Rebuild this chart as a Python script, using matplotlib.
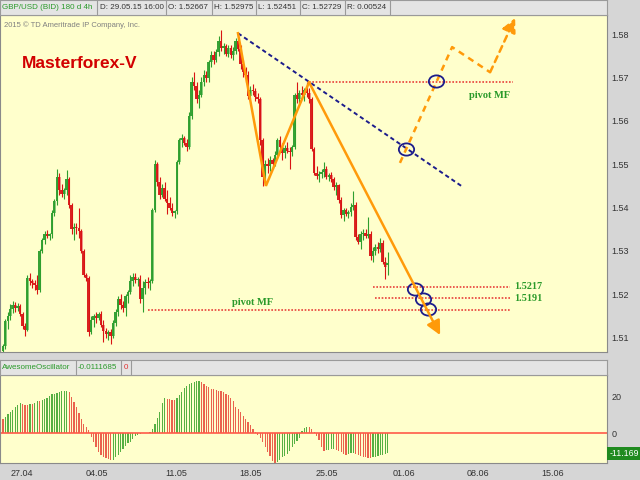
import matplotlib.pyplot as plt
import numpy as np
from matplotlib.path import Path
from matplotlib.transforms import Affine2D, blended_transform_factory

plt.rcParams["font.family"] = ["Liberation Sans", "DejaVu Sans"]

# 4h GBP/USD candles (bar index 0 .. 157)
opens = [
    1.5070, 1.5080, 1.5138, 1.5150, 1.5165, 1.5175, 1.5168, 1.5172, 1.5155, 1.5128,
    1.5118, 1.5238, 1.5230, 1.5225, 1.5222, 1.5210, 1.5300, 1.5325, 1.5340, 1.5335,
    1.5338, 1.5388, 1.5415, 1.5470, 1.5440, 1.5432, 1.5440, 1.5465, 1.5405, 1.5350,
    1.5355, 1.5352, 1.5345, 1.5300, 1.5245, 1.5238, 1.5112, 1.5140, 1.5150, 1.5145,
    1.5155, 1.5130, 1.5115, 1.5108, 1.5112, 1.5105, 1.5135, 1.5160, 1.5190, 1.5175,
    1.5168, 1.5195, 1.5205, 1.5230, 1.5240, 1.5232, 1.5235, 1.5190, 1.5215, 1.5228,
    1.5225, 1.5230, 1.5395, 1.5500, 1.5460, 1.5430, 1.5445, 1.5420, 1.5410, 1.5400,
    1.5388, 1.5392, 1.5505, 1.5555, 1.5560, 1.5550, 1.5540, 1.5610, 1.5690, 1.5680,
    1.5650, 1.5660, 1.5690, 1.5705, 1.5698, 1.5735, 1.5752, 1.5740, 1.5758, 1.5785,
    1.5768, 1.5772, 1.5755, 1.5768, 1.5752, 1.5760, 1.5785, 1.5765, 1.5730, 1.5712,
    1.5705, 1.5658, 1.5672, 1.5668, 1.5655, 1.5650, 1.5555, 1.5470, 1.5500, 1.5495,
    1.5510, 1.5500, 1.5522, 1.5555, 1.5540, 1.5525, 1.5538, 1.5530, 1.5528, 1.5540,
    1.5660, 1.5650, 1.5665, 1.5660, 1.5670, 1.5665, 1.5650, 1.5535, 1.5480, 1.5472,
    1.5478, 1.5482, 1.5490, 1.5470, 1.5475, 1.5465, 1.5448, 1.5452, 1.5418, 1.5382,
    1.5395, 1.5385, 1.5390, 1.5402, 1.5405, 1.5332, 1.5320, 1.5338, 1.5342, 1.5335,
    1.5340, 1.5288, 1.5300, 1.5310, 1.5305, 1.5318, 1.5275, 1.5267,
]
highs = [
    1.5085, 1.5142, 1.5160, 1.5178, 1.5185, 1.5182, 1.5180, 1.5178, 1.5160, 1.5135,
    1.5245, 1.5250, 1.5236, 1.5232, 1.5245, 1.5305, 1.5330, 1.5345, 1.5348, 1.5342,
    1.5395, 1.5420, 1.5490, 1.5480, 1.5455, 1.5445, 1.5487, 1.5470, 1.5410, 1.5365,
    1.5365, 1.5400, 1.5350, 1.5305, 1.5250, 1.5242, 1.5150, 1.5155, 1.5160, 1.5160,
    1.5162, 1.5140, 1.5122, 1.5118, 1.5120, 1.5140, 1.5165, 1.5195, 1.5200, 1.5185,
    1.5200, 1.5210, 1.5245, 1.5250, 1.5248, 1.5240, 1.5245, 1.5230, 1.5235, 1.5240,
    1.5235, 1.5400, 1.5510, 1.5505, 1.5470, 1.5455, 1.5460, 1.5440, 1.5425, 1.5410,
    1.5395, 1.5510, 1.5560, 1.5570, 1.5565, 1.5558, 1.5620, 1.5700, 1.5712, 1.5690,
    1.5670, 1.5700, 1.5718, 1.5715, 1.5740, 1.5760, 1.5760, 1.5765, 1.5795, 1.5810,
    1.5780, 1.5778, 1.5775, 1.5775, 1.5770, 1.5790, 1.5800, 1.5775, 1.5740, 1.5725,
    1.5715, 1.5680, 1.5685, 1.5675, 1.5665, 1.5655, 1.5560, 1.5510, 1.5515, 1.5520,
    1.5515, 1.5530, 1.5560, 1.5565, 1.5550, 1.5545, 1.5552, 1.5540, 1.5545, 1.5665,
    1.5690, 1.5670, 1.5680, 1.5675, 1.5690, 1.5675, 1.5655, 1.5540, 1.5495, 1.5485,
    1.5490, 1.5505, 1.5495, 1.5480, 1.5482, 1.5470, 1.5460, 1.5455, 1.5425, 1.5400,
    1.5400, 1.5395, 1.5410, 1.5438, 1.5412, 1.5340, 1.5345, 1.5350, 1.5350, 1.5378,
    1.5345, 1.5310, 1.5315, 1.5320, 1.5330, 1.5325, 1.5285, 1.5298,
]
lows = [
    1.5062, 1.5075, 1.5120, 1.5140, 1.5158, 1.5160, 1.5162, 1.5150, 1.5120, 1.5105,
    1.5115, 1.5222, 1.5215, 1.5210, 1.5200, 1.5205, 1.5295, 1.5315, 1.5330, 1.5325,
    1.5330, 1.5380, 1.5405, 1.5430, 1.5425, 1.5420, 1.5430, 1.5400, 1.5340, 1.5325,
    1.5340, 1.5330, 1.5295, 1.5240, 1.5230, 1.5105, 1.5108, 1.5125, 1.5135, 1.5140,
    1.5125, 1.5090, 1.5100, 1.5095, 1.5085, 1.5100, 1.5128, 1.5150, 1.5165, 1.5160,
    1.5150, 1.5180, 1.5200, 1.5220, 1.5225, 1.5220, 1.5180, 1.5160, 1.5200, 1.5215,
    1.5210, 1.5225, 1.5390, 1.5450, 1.5420, 1.5425, 1.5415, 1.5385, 1.5395, 1.5380,
    1.5375, 1.5385, 1.5500, 1.5540, 1.5545, 1.5530, 1.5535, 1.5605, 1.5670, 1.5640,
    1.5630, 1.5655, 1.5680, 1.5690, 1.5690, 1.5725, 1.5730, 1.5735, 1.5750, 1.5760,
    1.5755, 1.5750, 1.5748, 1.5745, 1.5740, 1.5755, 1.5760, 1.5720, 1.5700, 1.5690,
    1.5650, 1.5650, 1.5660, 1.5645, 1.5640, 1.5545, 1.5450, 1.5455, 1.5480, 1.5485,
    1.5490, 1.5495, 1.5515, 1.5530, 1.5510, 1.5515, 1.5525, 1.5490, 1.5520, 1.5535,
    1.5640, 1.5640, 1.5650, 1.5645, 1.5655, 1.5640, 1.5530, 1.5475, 1.5465, 1.5460,
    1.5468, 1.5470, 1.5465, 1.5462, 1.5458, 1.5440, 1.5430, 1.5410, 1.5375, 1.5370,
    1.5380, 1.5375, 1.5380, 1.5395, 1.5325, 1.5315, 1.5305, 1.5325, 1.5330, 1.5330,
    1.5280, 1.5275, 1.5290, 1.5295, 1.5298, 1.5270, 1.5235, 1.5245,
]
closes = [
    1.5080, 1.5138, 1.5150, 1.5165, 1.5175, 1.5168, 1.5172, 1.5155, 1.5128, 1.5118,
    1.5238, 1.5230, 1.5225, 1.5222, 1.5210, 1.5300, 1.5325, 1.5340, 1.5335, 1.5338,
    1.5388, 1.5415, 1.5470, 1.5440, 1.5432, 1.5440, 1.5465, 1.5405, 1.5350, 1.5355,
    1.5352, 1.5345, 1.5300, 1.5245, 1.5238, 1.5112, 1.5140, 1.5150, 1.5145, 1.5155,
    1.5130, 1.5115, 1.5108, 1.5112, 1.5105, 1.5135, 1.5160, 1.5190, 1.5175, 1.5168,
    1.5195, 1.5205, 1.5230, 1.5240, 1.5232, 1.5235, 1.5190, 1.5215, 1.5228, 1.5225,
    1.5230, 1.5395, 1.5500, 1.5460, 1.5430, 1.5445, 1.5420, 1.5410, 1.5400, 1.5388,
    1.5392, 1.5505, 1.5555, 1.5560, 1.5550, 1.5540, 1.5610, 1.5690, 1.5680, 1.5650,
    1.5660, 1.5690, 1.5705, 1.5698, 1.5735, 1.5752, 1.5740, 1.5758, 1.5785, 1.5768,
    1.5772, 1.5755, 1.5768, 1.5752, 1.5760, 1.5785, 1.5765, 1.5730, 1.5712, 1.5705,
    1.5658, 1.5672, 1.5668, 1.5655, 1.5650, 1.5555, 1.5470, 1.5500, 1.5495, 1.5510,
    1.5500, 1.5522, 1.5555, 1.5540, 1.5525, 1.5538, 1.5530, 1.5528, 1.5540, 1.5660,
    1.5650, 1.5665, 1.5660, 1.5670, 1.5665, 1.5650, 1.5535, 1.5480, 1.5472, 1.5478,
    1.5482, 1.5490, 1.5470, 1.5475, 1.5465, 1.5448, 1.5452, 1.5418, 1.5382, 1.5395,
    1.5385, 1.5390, 1.5402, 1.5405, 1.5332, 1.5320, 1.5338, 1.5342, 1.5335, 1.5340,
    1.5288, 1.5300, 1.5310, 1.5305, 1.5318, 1.5275, 1.5263, 1.5273,
]

# Awesome Oscillator (x1000)
ao = [
    7.5, 8.8, 10.2, 11.3, 12.7, 14.0, 15.2, 16.3, 16.1, 15.6,
    15.5, 15.9, 15.8, 16.3, 17.4, 17.3, 17.9, 18.4, 19.3, 20.2,
    21.2, 21.6, 22.1, 22.6, 23.0, 23.2, 23.3, 22.4, 20.0, 17.2,
    14.3, 10.9, 7.7, 5.0, 3.1, 1.7, -2.0, -5.0, -7.8, -10.4,
    -12.2, -12.9, -13.6, -14.4, -15.0, -14.6, -13.3, -12.0, -10.4, -8.6,
    -7.1, -5.7, -4.7, -3.2, -1.8, -0.9, -0.3, 0.0, 0.0, 0.3,
    0.8, 2.4, 4.9, 8.2, 11.5, 16.2, 19.0, 18.7, 18.4, 18.2,
    18.0, 19.4, 20.8, 22.7, 24.7, 25.6, 26.8, 27.4, 27.9, 28.4,
    28.6, 28.0, 27.0, 26.0, 25.0, 24.4, 23.9, 23.7, 23.3, 22.9,
    22.3, 21.5, 20.6, 19.1, 17.4, 14.0, 13.0, 11.6, 9.5, 7.8,
    6.2, 4.3, 2.1, 0.6, -1.0, -2.6, -5.0, -7.6, -10.6, -12.5,
    -15.3, -16.9, -15.9, -14.5, -13.3, -12.3, -11.3, -10.0, -7.8, -6.2,
    -4.5, -2.8, 1.0, 2.6, 3.5, 3.3, 2.2, 0.5, -1.5, -4.0,
    -7.5, -9.8, -9.5, -9.2, -9.0, -8.8, -9.3, -10.0, -10.6, -11.2,
    -11.8, -11.5, -11.0, -10.8, -11.4, -12.0, -12.5, -12.9, -13.2, -13.4,
    -13.5, -13.3, -13.0, -12.6, -12.2, -11.8, -11.5, -11.169,
]

date_ticks = [7.8, 38.4, 70.6, 101.2, 132.2, 163.7, 193.9, 224.5]
date_labels = ["27.04", "04.05", "11.05", "18.05", "25.05", "01.06", "08.06", "15.06"]
price_ticks = [1.51, 1.52, 1.53, 1.54, 1.55, 1.56, 1.57, 1.58]
ao_ticks = [0, 20]

# hand-drawn study objects (bar index, price)
wave_idx = [95.9, 107.3, 124.9, 178.4]
wave_price = [1.5802, 1.5450, 1.5689, 1.5106]
forecast_idx = [162.0, 183.3, 198.8, 209.0]
forecast_price = [1.5503, 1.5770, 1.5712, 1.5837]
trend_idx = [95.9, 187.8]
trend_price = [1.5802, 1.5447]
level_price = [1.5690, 1.5217, 1.5191, 1.5164]
level_start = [124.9, 151.0, 151.8, 59.2]
level_end = [208.2, 207.0, 207.0, 207.0]
circle_idx = [164.5, 176.7, 168.2, 171.4, 173.5]
circle_price = [1.5535, 1.5692, 1.5212, 1.5189, 1.5167]

W, H = 640, 480
BG = "#ffffcc"
ORANGE = "#ff9a0a"
NAVY = "#1c1c8c"
GREEN_TXT = "#2a9a2a"


def fx(px):
    return px / W


def fy(py):
    return 1 - py / H


fig = plt.figure(figsize=(6.4, 4.8), dpi=100, facecolor="#d6d6d6")

# ---- price panel
ax = fig.add_axes([0, fy(352), fx(607), (352 - 15) / H], facecolor=BG)
idx = np.arange(len(closes))
o = np.array(opens)
c = np.array(closes)
up = c >= o
body_lo = np.minimum(o, c)
body_hi = np.maximum(o, c)
body_h = np.maximum(body_hi - body_lo, 0.00015)
light = np.where(up, "#8fd07e", "#f39a90")
dark = np.where(up, "#2e9e2e", "#d81414")
ax.bar(idx, body_h, bottom=body_lo, width=1.05, color=light, lw=0)
ax.vlines(idx, lows, highs, colors=dark, lw=0.8)
ax.vlines(idx - 0.15, body_lo, body_lo + body_h, colors=dark, lw=1.3)

ax.hlines(level_price, level_start, level_end, colors="#e8403a",
          linestyles=(0, (1, 1)), lw=1.2)
ax.plot(trend_idx, trend_price, color=NAVY, lw=1.4, ls=(0, (2.2, 1.6)))
ax.plot(wave_idx[:3], wave_price[:3], color=ORANGE, lw=1.8, solid_joinstyle="miter")
ax.annotate("", xy=(wave_idx[3], wave_price[3]), xytext=(wave_idx[2], wave_price[2]),
            arrowprops=dict(arrowstyle="-|>,head_length=0.7,head_width=0.35",
                            color=ORANGE, lw=1.8, shrinkA=0, shrinkB=0, mutation_scale=12))
ax.plot(forecast_idx[:3], forecast_price[:3], color=ORANGE, lw=1.8, ls=(0, (2.5, 2)))
ax.annotate("", xy=(forecast_idx[3], forecast_price[3]),
            xytext=(forecast_idx[2], forecast_price[2]),
            arrowprops=dict(arrowstyle="-|>,head_length=0.7,head_width=0.35",
                            color=ORANGE, lw=1.8, ls=(0, (2.5, 2)),
                            shrinkA=0, shrinkB=0, mutation_scale=12))

ell = Path.unit_circle().transformed(Affine2D().scale(1.0, 0.8))
ax.plot(circle_idx, circle_price, ls="none", marker=ell, ms=11,
        mfc="none", mec=NAVY, mew=1.3)

serif = ["Liberation Serif", "DejaVu Serif"]
ax.text(190.2, 1.5659, "pivot MF", color=GREEN_TXT, fontsize=7.5,
        weight="bold", family=serif, va="center", ha="left")
ax.text(93.5, 1.5182, "pivot MF", color=GREEN_TXT, fontsize=7.5,
        weight="bold", family=serif, va="center", ha="left")
for p in level_price[1:3]:
    ax.text(208.6, p, f"{p:.4f}", color=GREEN_TXT, fontsize=7.3,
            weight="bold", family=serif, va="center", ha="left")

ax.set_xlim(-1.22, 246.5)
ax.set_ylim(1.5067, 1.5844)
ax.set_xticks([])
ax.yaxis.tick_right()
ax.set_yticks(price_ticks)
ax.set_yticklabels([f"{t:.2f}" for t in price_ticks])
ax.tick_params(axis="y", length=0, pad=3, labelsize=6.5, labelcolor="#333333")
for s in ax.spines.values():
    s.set_color("#8a8a8a")
    s.set_linewidth(0.8)

fig.text(fx(4), fy(25), "2015 \u00a9 TD Ameritrade IP Company, Inc.", fontsize=5.5,
         color="#808080", va="center", ha="left")
fig.text(fx(22), fy(63), "Masterforex-V", color="#d20000", fontsize=12.5,
         weight="bold", va="center", ha="left")

# ---- oscillator panel
ax2 = fig.add_axes([0, fy(463), fx(607), 88 / H], facecolor=BG)
ao_arr = np.array(ao)
ao_up = np.concatenate([[False], ao_arr[1:] > ao_arr[:-1]])
ax2.bar(idx, ao_arr, width=0.5, color=np.where(ao_up, "#56b043", "#ea624e"), lw=0)
ax2.axhline(0, color="#ff5a48", lw=1.2)
ax2.set_xlim(-1.22, 246.5)
ax2.set_ylim(-16.4, 31.8)
ax2.yaxis.tick_right()
ax2.set_yticks(ao_ticks)
ax2.set_xticks(date_ticks)
ax2.set_xticklabels(date_labels)
ax2.tick_params(axis="y", length=0, pad=3, labelsize=6.5, labelcolor="#333333")
ax2.tick_params(axis="x", length=0, pad=4, labelsize=6.5, labelcolor="#333333")
for s in ax2.spines.values():
    s.set_color("#8a8a8a")
    s.set_linewidth(0.8)
tr = blended_transform_factory(ax2.transAxes, ax2.transData)
ax2.text(1.004, ao[-1], f"{ao[-1]:.3f}", transform=tr, color="white", fontsize=6.3,
         va="center", ha="left",
         bbox=dict(boxstyle="square,pad=0.25", fc="#1f8a1f", ec="none"))


# ---- header strips
def header(top, cells, texts):
    hx = fig.add_axes([0, fy(top + 15), fx(607), 15 / H], facecolor="#e4e4e4")
    hx.set_xlim(0, 607)
    hx.set_ylim(15, 0)
    hx.set_xticks([])
    hx.set_yticks([])
    for s in hx.spines.values():
        s.set_color("#9a9a9a")
        s.set_linewidth(0.8)
    for xs in cells:
        hx.axvline(xs, color="#9a9a9a", lw=0.8)
    for x0, txt, col in texts:
        hx.text(x0, 7.8, txt, color=col, fontsize=5.8, va="center", ha="left")


header(0, [97, 166, 212, 256, 300, 345, 390],
       [(2, "GBP/USD (BID) 180 d 4h", GREEN_TXT),
        (100, "D: 29.05.15 16:00", "#333333"),
        (168, "O: 1.52667", "#333333"),
        (214, "H: 1.52975", "#333333"),
        (258, "L: 1.52451", "#333333"),
        (302, "C: 1.52729", "#333333"),
        (347, "R: 0.00524", "#333333")])
header(360, [76, 121, 131],
       [(2, "AwesomeOscillator", GREEN_TXT),
        (78, "-0.0111685", GREEN_TXT),
        (124, "0", "#e03030")])

fig.savefig("out.png", dpi=100, facecolor=fig.get_facecolor())
